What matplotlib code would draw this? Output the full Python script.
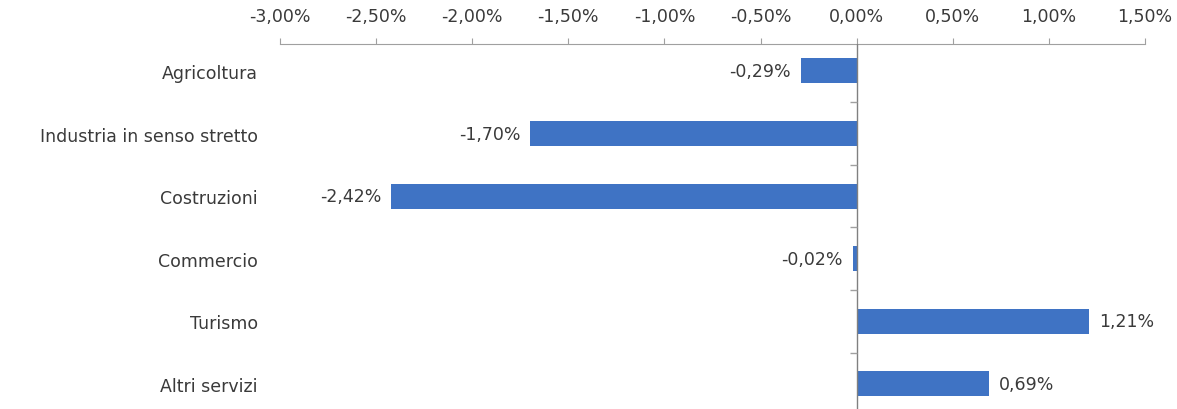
import matplotlib
matplotlib.use("Agg")
import matplotlib.pyplot as plt
from matplotlib.ticker import FuncFormatter

plt.rcParams["font.family"] = ["DejaVu Sans"]

categories = ["Agricoltura", "Industria in senso stretto", "Costruzioni",
              "Commercio", "Turismo", "Altri servizi"]
values = [-0.29, -1.70, -2.42, -0.02, 1.21, 0.69]
x_ticks = [-3.0, -2.5, -2.0, -1.5, -1.0, -0.5, 0.0, 0.5, 1.0, 1.5]

BAR = "#3f73c4"
TXT = "#3a3a3a"
FS = 12.5


def pct(v, pos=None):
    return f"{v:.2f}%".replace(".", ",")


fig = plt.figure(figsize=(11.77, 4.10), dpi=100)
ax = fig.add_axes([280 / 1177, 0.0, (1145 - 280) / 1177, 1 - 45 / 410])

y = list(range(len(categories)))
ax.barh(y, values, height=0.4, color=BAR, zorder=2)

for yi, v in zip(y, values):
    off = 7 if v >= 0 else -7
    ax.annotate(pct(v), (v, yi), xytext=(off, 0), textcoords="offset points",
                ha="left" if v >= 0 else "right", va="center",
                fontsize=FS, color=TXT)

ax.set_xlim(-3.0, 1.5)
ax.set_ylim(5.4, -0.43)
ax.set_xticks(x_ticks)
ax.xaxis.set_major_formatter(FuncFormatter(pct))
ax.xaxis.tick_top()
ax.tick_params(axis="x", direction="out", length=4, color="#a0a0a0",
               labelsize=FS, labelcolor=TXT, pad=10)

ax.set_yticks(y)
ax.set_yticklabels(categories)
ax.tick_params(axis="y", length=0, labelsize=FS, labelcolor=TXT, pad=16)

for s in ["left", "right", "bottom"]:
    ax.spines[s].set_visible(False)
ax.spines["top"].set_color("#a0a0a0")

# zero line with small category-boundary ticks
ax.axvline(0, color="#808080", lw=1, zorder=3)
ax.plot([0] * (len(categories) - 1), [k + 0.5 for k in y[:-1]],
        ls="none", marker=0, ms=5, color="#a0a0a0", zorder=3)

fig.savefig("out.png", dpi=100)
